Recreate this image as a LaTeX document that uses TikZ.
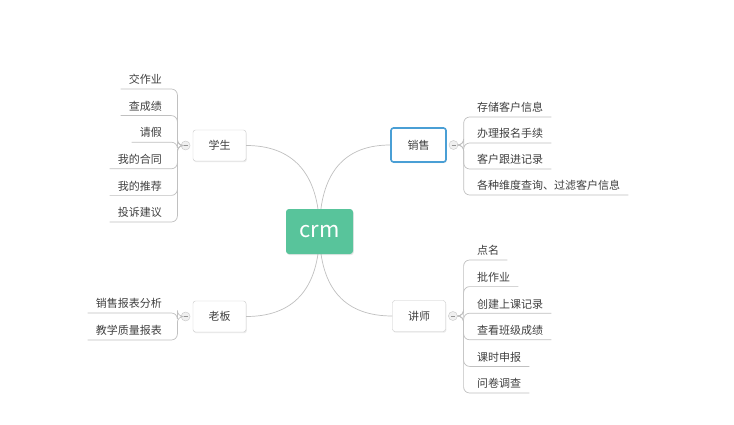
\documentclass[tikz,border=0pt]{standalone}
\usepackage{fontspec}
\setmainfont{Noto Sans CJK SC}
\usetikzlibrary{calc, positioning}
\usetikzlibrary{shadows}
\pgfdeclarelayer{back}
\pgfsetlayers{back,main}
\definecolor{crmgreen}{HTML}{58C49B}
\definecolor{selblue}{HTML}{4A9FD5}
\definecolor{linegray}{HTML}{C0C0C0}
\definecolor{boxgray}{HTML}{C8C8C8}
\definecolor{txtgray}{HTML}{404040}
\def\bw{53pt}
\def\bh{31pt}
\tikzset{
    root/.style = {
        rectangle, rounded corners=3pt, fill=crmgreen, text=white, minimum width=67pt, minimum height=45pt,
        font=\fontsize{22}{26}\selectfont, drop shadow={opacity=0.18, shadow xshift=0.8pt, shadow yshift=-1.2pt}
    },
    topic/.style = {
        draw=boxgray, fill=white, rectangle, rounded corners=2.5pt, minimum width=\bw, minimum height=\bh,
        text=txtgray, font=\fontsize{11}{13}\selectfont, drop shadow={opacity=0.15, shadow xshift=0.8pt, shadow yshift=-1.2pt}
    },
    picked/.style = {
        draw=selblue, line width=1.6pt, minimum width=55pt, minimum height=34pt
    },
    leaf/.style = {
        inner xsep=8pt, inner ysep=3pt, text height=9pt, text depth=2pt, text=txtgray, font=\fontsize{11}{13}\selectfont
    },
    knob/.style = {
        circle, minimum size=9pt, inner sep=0pt, draw=gray!45, fill=gray!12,
        path picture={\draw[gray!85, line width=0.8pt] ([xshift=-2pt]path picture bounding box.center) -- ([xshift=2pt]path picture bounding box.center);}
    },
    branch/.style = { draw=linegray, line width=0.7pt, rounded corners=6pt },
    stem/.style = { draw=linegray, line width=0.7pt },
}
\begin{document}
\begin{tikzpicture}[x=1pt, y=-1pt]
        \useasboundingbox (0,0) rectangle (734,425);

        % Place the topics
        \node[root] (crm) at (319.5,231.5) {crm};
        \node[topic] (xs) at (219.5,145.5) {学生};
        \node[topic, picked] (ss) at (418.5,145) {销售};
        \node[topic] (lb) at (219.5,316.5) {老板};
        \node[topic] (js) at (419,316) {讲师};

        % Collapse knobs and trunks
        \node[knob, left=2.5pt of xs] (kXS) {};
        \node[knob, right=2pt of ss] (kSS) {};
        \node[knob, left=2.5pt of lb] (kLB) {};
        \node[knob, right=2.5pt of js] (kJS) {};
        \coordinate[left=3.5pt of kXS] (tXS);
        \coordinate[right=5.5pt of kSS] (tSS);
        \coordinate[left=3.5pt of kLB] (tLB);
        \coordinate[right=6pt of kJS] (tJS);

        % Draw the leaves
        \foreach \txt [count=\i] in {交作业, 查成绩, 请假, 我的合同, 我的推荐, 投诉建议}{
            \node[leaf, anchor=south east] (xs\i) at (170,{89+26.6*(\i-1)}) {\txt};
            \draw[branch] (kXS.west) -- (tXS) |- (xs\i.south west);
        }
        \foreach \txt [count=\i] in {存储客户信息, 办理报名手续, 客户跟进记录, 各种维度查询、过滤客户信息}{
            \node[leaf, anchor=south west] (ss\i) at (469,{117+26*(\i-1)}) {\txt};
            \draw[branch] (kSS.east) -- (tSS) |- (ss\i.south east);
        }
        \foreach \txt [count=\i] in {销售报表分析, 教学质量报表}{
            \node[leaf, anchor=south east] (lb\i) at (170,{313+27*(\i-1)}) {\txt};
            \draw[branch] (kLB.west) -- (tLB) |- (lb\i.south west);
        }
        \foreach \txt [count=\i] in {点名, 批作业, 创建上课记录, 查看班级成绩, 课时申报, 问卷调查}{
            \node[leaf, anchor=south west] (js\i) at (469,{260+26.6*(\i-1)}) {\txt};
            \draw[branch] (kJS.east) -- (tJS) |- (js\i.south east);
        }

        % Draw connections from the root
        \begin{pgfonlayer}{back}
            \fill[white] (0,0) rectangle (734,425);
            \draw[stem] (crm.center) .. controls +(0,-60) and +(45,0) .. (xs.east);
            \draw[stem] (crm.center) .. controls +(0,-60) and +(-45,0) .. (ss.west);
            \draw[stem] (crm.center) .. controls +(0,60) and +(45,0) .. (lb.east);
            \draw[stem] (crm.center) .. controls +(0,60) and +(-45,0) .. (js.west);
        \end{pgfonlayer}
\end{tikzpicture}
\end{document}
